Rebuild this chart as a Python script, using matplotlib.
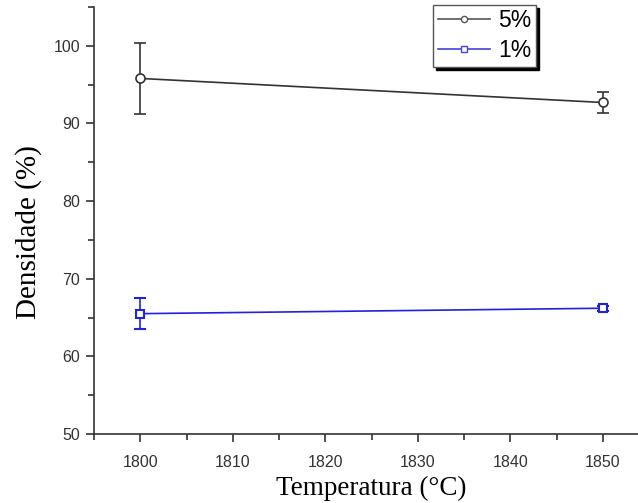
import numpy as np
import matplotlib.pyplot as plt
from matplotlib.ticker import MultipleLocator
from matplotlib.lines import Line2D

# data
temps = [1800, 1850]
dens_5 = [95.8, 92.7]
err_5 = [4.6, 1.3]
dens_1 = [65.5, 66.2]
err_1 = [2.0, 0.3]
labels = ['5%', '1%']

c5 = '#333333'
c1 = '#2222dd'

fig = plt.figure(figsize=(6.38, 5.03), dpi=100)
ax = fig.add_axes([94 / 638, 69 / 503, 555 / 638, 427 / 503])

ax.errorbar(temps, dens_5, yerr=err_5, color=c5, lw=1.2, marker='o', ms=6.5,
            mfc='white', mec=c5, mew=1.2, capsize=4, elinewidth=1.2)
ax.errorbar(temps, dens_1, yerr=err_1, color=c1, lw=1.2, marker='s', ms=5.5,
            mfc='white', mec=c1, mew=1.5, capsize=4, elinewidth=1.2)

ax.set_xlim(1795, 1855)
ax.set_ylim(50, 105)
ax.xaxis.set_major_locator(MultipleLocator(10))
ax.xaxis.set_minor_locator(MultipleLocator(5))
ax.yaxis.set_major_locator(MultipleLocator(10))
ax.yaxis.set_minor_locator(MultipleLocator(5))
ax.tick_params(which='both', direction='out', colors=c5, labelsize=11.5)
ax.tick_params(which='major', length=6, width=1.2)
ax.tick_params(which='minor', length=4, width=1.2)
for lbl in ax.get_xticklabels() + ax.get_yticklabels():
    lbl.set_family('Liberation Sans')
ax.tick_params(axis='x', pad=9)
ax.tick_params(axis='y', pad=4)

for s in ['top', 'right']:
    ax.spines[s].set_visible(False)
for s in ['left', 'bottom']:
    ax.spines[s].set_linewidth(1.2)
    ax.spines[s].set_color(c5)

ax.set_xlabel('Temperatura (°C)', family='Liberation Serif', fontsize=19.5)
ax.set_ylabel('Densidade (%)', family='Liberation Serif', fontsize=21)
ax.xaxis.set_label_coords(0.5, -0.098)
ax.yaxis.set_label_coords(-0.094, 0.473)

# legend: line - marker - line, no error bars
handles = [Line2D([], [], color='#555555', lw=1.2, marker='o', ms=4.5, mfc='white', mec='#555555'),
           Line2D([], [], color='#4444dd', lw=1.2, marker='s', ms=4.5, mfc='white', mec='#4444dd')]
leg = ax.legend(handles, labels, loc='upper left', bbox_to_anchor=(0.611, 1.005),
                prop={'family': 'Liberation Sans', 'size': 16.5}, frameon=True, fancybox=False,
                shadow={'color': 'black', 'alpha': 1}, edgecolor='#555555', borderpad=0.2,
                handlelength=2.3, labelspacing=0.3, handletextpad=0.35, borderaxespad=0.0)
leg.get_frame().set_linewidth(1.0)

plt.savefig('out.png', dpi=100)
